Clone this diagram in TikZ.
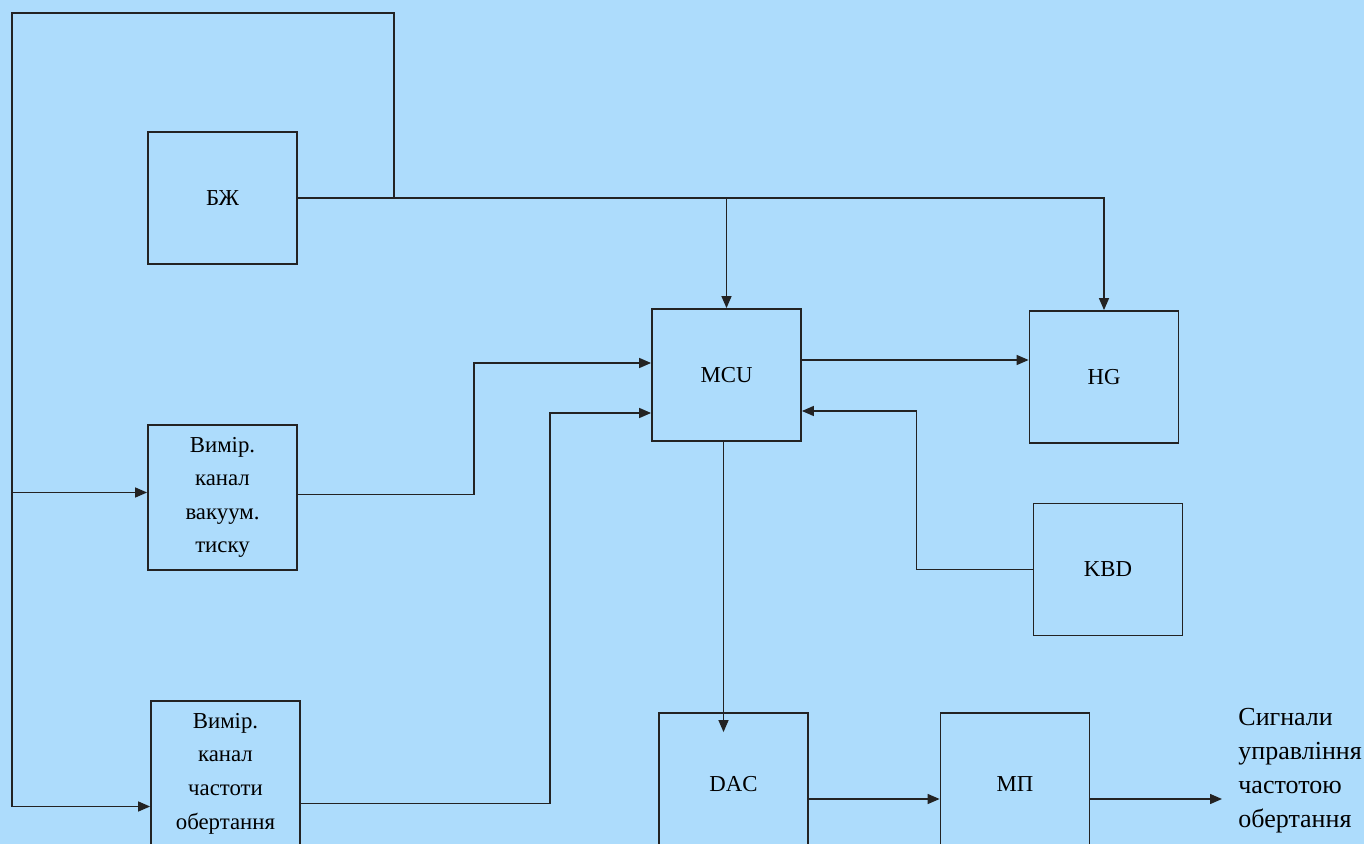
\documentclass[tikz,border=0pt]{standalone}
\usepackage{fontspec}
\setmainfont{Liberation Serif}
\usetikzlibrary{positioning,arrows.meta,calc}
\definecolor{bgblue}{RGB}{173,220,252}
\definecolor{linegray}{RGB}{35,35,35}

\begin{document}
\begin{tikzpicture}[x=0.5pt, y=-0.5pt,
  blk/.style={draw=linegray, line width=0.9pt, minimum width=74.5pt,
              minimum height=66pt, align=center, inner sep=0pt,
              font=\fontsize{11.4}{16.8}\selectfont},
  wire/.style={draw=linegray, line width=0.7pt},
  arr/.style={wire, -{Triangle[length=6pt, width=5pt]}}]
\clip (0,0) rectangle (1364,844);
\fill[bgblue] (0,0) rectangle (1364,844);
% blocks
\node[blk] (bzh) at (222.5,198) {БЖ};
\node[blk, minimum height=72.5pt] (vac) at (222.5,497.5) {Вимір.\\канал\\вакуум.\\тиску};
\node[blk, minimum height=72.5pt] (freq) at (225.5,773.5) {Вимір.\\канал\\частоти\\обертання};
\node[blk] (mcu) at (726.5,375) {MCU};
\node[blk] (hg) at (1104,377) {HG};
\node[blk] (kbd) at (1108,569.5) {KBD};
\node[blk, minimum height=71pt] (dac) at (733.5,784) {DAC};
\node[blk, minimum height=71pt] (mp) at (1015,784) {МП};
\node[anchor=west, align=left, inner sep=0pt, font=\fontsize{13}{17}\selectfont] (out) at (1238,771)
  {Сигнали\\управління\\частотою\\обертання};
% supply bus and feedback loop
\coordinate (tl) at (12,13);
\coordinate (jn) at ($(bzh.east)+(96,-2)$);
\draw[arr] (bzh.east) -| (hg.north);
\draw[arr] (mcu.north |- bzh.east) -- (mcu.north);
\draw[wire] (jn) -- (jn |- bzh.east);
\draw[arr] (jn) |- (tl) |- ($(freq.west)+(0,33)$);
\draw[arr] ($(tl |- vac.west)+(0,-5)$) coordinate (v0) -- (v0 -| vac.west);
% measurement channels into MCU
\draw[arr] ($(vac.east)+(0,-3)$) -- ++(176,0) |- ($(mcu.west)+(0,-12)$);
\draw[arr] ($(freq.east)+(0,30)$) -- ++(249,0) |- ($(mcu.west)+(0,38)$);
% MCU peripherals
\draw[arr] ($(mcu.east)+(0,-15)$) coordinate (m1) -- (m1 -| hg.west);
\draw[arr] (kbd.west) -- ++(-116,0) |- ($(mcu.east)+(0,36)$);
% output chain
\draw[arr] ($(mcu.south)+(-3,0)$) coordinate (m2) -- ($(m2 |- dac.north)+(0,20)$);
\draw[arr] ($(dac.east)+(0,15)$) coordinate (d1) -- (d1 -| mp.west);
\draw[arr] ($(mp.east)+(0,15)$) coordinate (p1) -- ($(p1 -| out.west)+(-16,0)$);
\end{tikzpicture}
\end{document}
